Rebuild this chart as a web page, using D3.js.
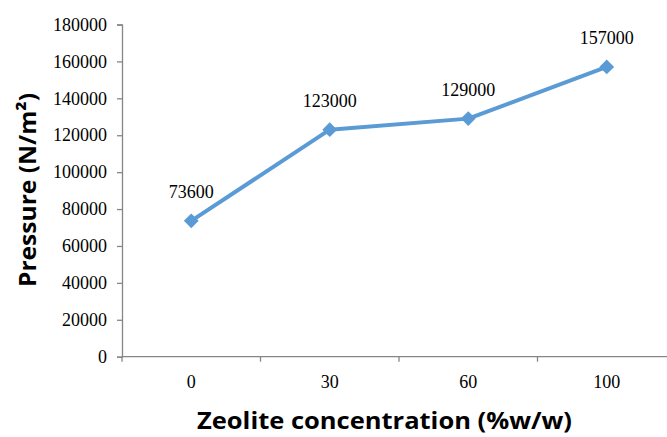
<!DOCTYPE html>
<html>
<head>
<meta charset="utf-8">
<script src="https://cdn.jsdelivr.net/npm/d3@7/dist/d3.min.js"></script>
<style>
  html, body { margin: 0; padding: 0; background: #fff; }
  svg { display: block; }
  .serif { font-family: "Liberation Serif", "DejaVu Serif", serif; font-size: 18px; }
  .title { font-family: "Open Sans", sans-serif; font-weight: bold; font-size: 24px; }
</style>
</head>
<body>
<svg id="chart" width="667" height="437"></svg>
<script>
const categories = ["0", "30", "60", "100"];
const pressure = [73600, 123000, 129000, 157000];
const yTicks = [0, 20000, 40000, 60000, 80000, 100000, 120000, 140000, 160000, 180000];

const svg = d3.select("#chart");

const plotLeft = 122, plotTop = 24.5, plotBottom = 356.7, plotRight = 676;

const x = d3.scalePoint()
  .domain(categories)
  .range([plotLeft, plotRight])
  .padding(0.5);

const xBand = d3.scaleBand()
  .domain(categories)
  .range([plotLeft, plotRight]);

const y = d3.scaleLinear()
  .domain([0, 180000])
  .range([plotBottom, plotTop]);

const axisColor = "#868686";

// y axis
const yAxis = svg.append("g")
  .attr("transform", `translate(${plotLeft},0)`)
  .call(d3.axisLeft(y).tickValues(yTicks).tickSize(5).tickPadding(10).tickFormat(d3.format("d")))
  .attr("font-family", null)
  .attr("font-size", null);
yAxis.select(".domain").attr("stroke", axisColor).attr("stroke-width", 1.3);
yAxis.selectAll(".tick line").attr("stroke", axisColor).attr("stroke-width", 1.3);
yAxis.selectAll(".tick text")
  .attr("fill", "#000")
  .attr("class", "serif");

// x axis: ticks at band boundaries
const xAxis = svg.append("g")
  .attr("transform", `translate(0,${plotBottom})`);
xAxis.append("line")
  .attr("x1", plotLeft).attr("x2", plotRight)
  .attr("stroke", axisColor).attr("stroke-width", 1.3);
xAxis.selectAll("line.tk")
  .data(categories)
  .enter()
  .append("line")
  .attr("class", "tk")
  .attr("x1", d => xBand(d)).attr("x2", d => xBand(d))
  .attr("y1", 0).attr("y2", 5)
  .attr("stroke", axisColor).attr("stroke-width", 1.3);
xAxis.selectAll("text")
  .data(categories)
  .enter()
  .append("text")
  .attr("class", "serif")
  .attr("x", d => x(d))
  .attr("y", 31)
  .attr("text-anchor", "middle")
  .text(d => d);

// line
const points = categories.map((c, i) => ({ c, v: pressure[i] }));
svg.append("path")
  .datum(points)
  .attr("fill", "none")
  .attr("stroke", "#5b9bd5")
  .attr("stroke-width", 4)
  .attr("stroke-linejoin", "round")
  .attr("d", d3.line().x(d => x(d.c)).y(d => y(d.v)));

svg.selectAll("path.marker")
  .data(points)
  .enter()
  .append("path")
  .attr("class", "marker")
  .attr("fill", "#5b9bd5")
  .attr("transform", d => `translate(${x(d.c)},${y(d.v)})`)
  .attr("d", d3.symbol().type(d3.symbolDiamond2).size(140));

svg.selectAll("text.lbl")
  .data(points)
  .enter()
  .append("text")
  .attr("class", "lbl serif")
  .attr("x", d => x(d.c))
  .attr("y", d => y(d.v) - 23)
  .attr("text-anchor", "middle")
  .text(d => d.v);

// axis titles
svg.append("text")
  .attr("class", "title")
  .attr("x", 384.5)
  .attr("y", 429)
  .attr("text-anchor", "middle")
  .attr("textLength", 375)
  .attr("lengthAdjust", "spacingAndGlyphs")
  .text("Zeolite concentration (%w/w)");

svg.append("text")
  .attr("class", "title")
  .attr("transform", "translate(36,190) rotate(-90)")
  .attr("text-anchor", "middle")
  .attr("textLength", 194)
  .attr("lengthAdjust", "spacingAndGlyphs")
  .text("Pressure (N/m²)");
</script>
</body>
</html>
